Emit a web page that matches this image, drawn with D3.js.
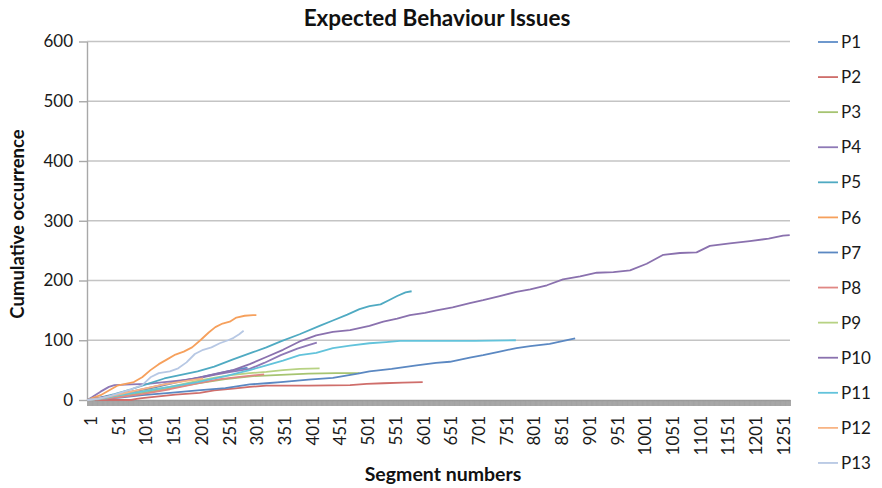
<!DOCTYPE html>
<html>
<head>
<meta charset="utf-8">
<script src="https://cdn.jsdelivr.net/npm/d3@7"></script>
<style>
  html, body { margin: 0; padding: 0; background: #fff; }
  svg { display: block; font-family: Lato, "Open Sans", sans-serif; }
</style>
</head>
<body>
<svg id="chart" width="882" height="488"></svg>
<script>
// Cumulative occurrence of expected-behaviour issues per participant,
// given as [segment number, cumulative count] readings.
const seriesNames = ["P1", "P2", "P3", "P4", "P5", "P6", "P7", "P8", "P9", "P10", "P11", "P12", "P13"];

const P1 = [[1,0],[20,2],[50,6],[80,12],[110,18],[140,25],[170,31],[200,37],[230,43],[260,49],[290,54]];
const P2 = [[1,0],[80,0],[90,2],[100,3],[130,6],[160,9],[204,12],[230,16],[264,19],[294,22],[324,24],[400,24],[475,25],[505,27],[535,28],[570,29],[606,30]];
const P3 = [[1,0],[30,2],[60,6],[100,12],[150,20],[200,28],[250,35],[300,40],[350,42],[400,44],[450,45],[492,45]];
const P4 = [[1,0],[10,5],[25,14],[40,22],[50,25],[80,26],[110,27],[140,30],[170,33],[200,36],[230,42],[260,47],[294,52],[320,62],[350,75],[380,86],[400,92],[415,96]];
const P5 = [[1,0],[20,3],[50,10],[80,18],[110,27],[140,36],[170,42],[200,48],[230,56],[264,68],[300,80],[324,88],[350,98],[384,110],[420,124],[444,133],[470,143],[492,152],[510,157],[530,160],[545,167],[560,174],[575,180],[586,182]];
const P6 = [[1,0],[10,3],[25,8],[40,16],[55,24],[70,27],[85,30],[100,38],[115,50],[130,60],[145,68],[160,76],[175,81],[190,88],[205,100],[220,113],[232,122],[245,128],[258,131],[270,138],[285,141],[300,142],[306,142]];
const P7 = [[1,0],[30,2],[60,4],[100,8],[150,12],[200,16],[250,20],[294,26],[324,28],[350,30],[400,34],[444,37],[489,44],[510,48],[550,52],[595,58],[630,62],[655,64],[691,71],[715,75],[745,81],[775,87],[800,90],[835,94],[860,99],[881,103]];
const P8 = [[1,0],[30,2],[60,5],[100,10],[150,18],[200,28],[240,35],[280,39],[320,43]];
const P9 = [[1,0],[30,3],[60,8],[100,15],[150,22],[204,33],[234,38],[264,42],[294,45],[324,47],[354,50],[384,52],[420,53]];
const P10 = [[1,0],[20,3],[50,8],[80,14],[110,20],[140,26],[170,32],[204,38],[234,44],[264,50],[294,60],[324,72],[354,84],[384,98],[414,108],[444,114],[475,117],[510,124],[535,131],[560,136],[583,142],[610,146],[631,150],[660,155],[691,162],[715,167],[745,174],[775,181],[800,185],[830,192],[859,202],[890,207],[920,213],[950,214],[980,217],[1010,228],[1040,243],[1070,246],[1100,247],[1124,258],[1160,262],[1196,266],[1230,270],[1256,275],[1268,276]];
const P11 = [[1,0],[30,3],[60,8],[100,14],[150,22],[200,30],[250,40],[294,50],[324,58],[354,66],[384,75],[414,79],[444,87],[475,91],[510,95],[540,97],[565,99],[600,99],[650,99],[700,99],[774,100]];
const P12 = [[1,0],[30,4],[60,10],[100,18],[140,26],[180,32],[210,36]];
const P13 = [[1,0],[20,2],[40,6],[60,12],[80,18],[100,25],[115,38],[130,45],[150,48],[165,53],[180,63],[195,77],[210,84],[225,88],[240,95],[255,100],[265,104],[275,110],[283,116]];

const seriesValues = [P1, P2, P3, P4, P5, P6, P7, P8, P9, P10, P11, P12, P13];

const segmentCount = 1268;
const yTickValues = [0, 100, 200, 300, 400, 500, 600];
const xTickLabels = ["1","51","101","151","201","251","301","351","401","451","501","551","601","651","701","751","801","851","901","951","1001","1051","1101","1151","1201","1251"];

const palette = ["#5E8DC8", "#CF6E6B", "#A6C471", "#8E79B6", "#4FAAC2", "#F6A05C", "#5B88C2",
                 "#E08784", "#B7D283", "#8A71AE", "#62C3DB", "#F8B484", "#B7C8E4"];

const svg = d3.select("#chart");
const plot = { left: 87, right: 790, top: 41.5, bottom: 400 };

const x = d3.scaleLinear().domain([0.5, segmentCount + 0.5]).range([plot.left, plot.right]);
const y = d3.scaleLinear().domain([0, 600]).range([plot.bottom, plot.top]);

// Horizontal gridlines
svg.append("g")
  .selectAll("line")
  .data(yTickValues.filter(v => v > 0))
  .join("line")
  .attr("x1", plot.left).attr("x2", plot.right)
  .attr("y1", d => y(d)).attr("y2", d => y(d))
  .attr("stroke", "#C4C4C4").attr("stroke-width", 1.4);

// Dense category tick band under the zero line (one tick per segment boundary)
const boundaries = d3.range(0, segmentCount + 1).map(i => i + 0.5);
const tickBand = svg.append("g")
  .attr("transform", `translate(0,${plot.bottom})`)
  .call(d3.axisBottom(x).tickValues(boundaries).tickSize(6).tickSizeOuter(0).tickFormat(""));
tickBand.select(".domain").attr("stroke", "#A0A0A0").attr("stroke-width", 1.4);
tickBand.selectAll(".tick line").attr("stroke", "#9A9A9A").attr("stroke-width", 0.8);

// Segment labels, rotated
const xLabels = svg.append("g")
  .attr("transform", `translate(0,${plot.bottom})`)
  .call(d3.axisBottom(x).tickValues(xTickLabels.map(Number))
    .tickFormat((d, i) => xTickLabels[i]).tickSize(0).tickSizeOuter(0));
xLabels.select(".domain").remove();
xLabels.selectAll("text")
  .attr("transform", "rotate(-90)")
  .attr("text-anchor", "end")
  .attr("x", -16)
  .attr("y", 3)
  .attr("dy", "0.36em")
  .attr("fill", "#1a1a1a")
  .style("font-size", "17px")
  .style("font-family", "Lato, 'Open Sans', sans-serif");

// Y axis
const yAxis = svg.append("g")
  .attr("transform", `translate(${plot.left},0)`)
  .call(d3.axisLeft(y).tickValues(yTickValues).tickSize(8).tickSizeOuter(0).tickPadding(6));
yAxis.select(".domain").attr("stroke", "#A8A8A8").attr("stroke-width", 1.4);
yAxis.selectAll(".tick line").attr("stroke", "#A8A8A8").attr("stroke-width", 1.4);
yAxis.selectAll("text")
  .attr("fill", "#1a1a1a")
  .style("font-size", "17px")
  .style("font-family", "Lato, 'Open Sans', sans-serif");

// Series lines
const line = d3.line().x(d => x(d[0])).y(d => y(d[1]));
svg.append("g")
  .selectAll("path")
  .data(seriesValues)
  .join("path")
  .attr("d", line)
  .attr("fill", "none")
  .attr("stroke", (d, i) => palette[i])
  .attr("stroke-width", 1.8)
  .attr("stroke-linejoin", "round");

// Titles
svg.append("text")
  .attr("x", 437).attr("y", 26)
  .attr("text-anchor", "middle")
  .style("font-size", "22.5px").style("font-weight", "bold")
  .attr("fill", "#111")
  .text("Expected Behaviour Issues");

svg.append("text")
  .attr("x", 443).attr("y", 481)
  .attr("text-anchor", "middle")
  .style("font-size", "19.5px").style("font-weight", "bold")
  .attr("fill", "#111")
  .text("Segment numbers");

svg.append("text")
  .attr("transform", "translate(24,224) rotate(-90)")
  .attr("text-anchor", "middle")
  .style("font-size", "18.5px").style("font-weight", "bold")
  .attr("fill", "#111")
  .text("Cumulative occurrence");

// Legend
const legend = svg.append("g")
  .selectAll("g")
  .data(seriesNames)
  .join("g")
  .attr("transform", (d, i) => `translate(0,${42 + i * 35.08})`);
legend.append("line")
  .attr("x1", 818).attr("x2", 838).attr("y1", 0).attr("y2", 0)
  .attr("stroke", (d, i) => palette[i]).attr("stroke-width", 1.8);
legend.append("text")
  .attr("x", 841).attr("y", 0).attr("dy", "0.36em")
  .style("font-size", "17px")
  .attr("fill", "#1a1a1a")
  .text(d => d);
</script>
</body>
</html>
